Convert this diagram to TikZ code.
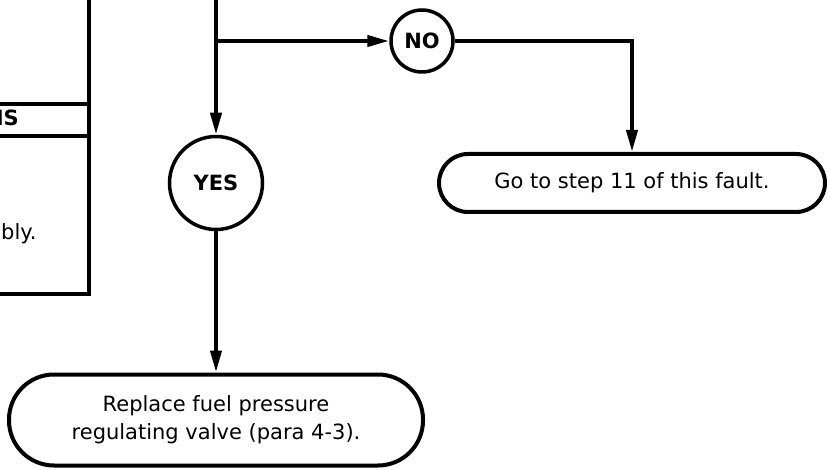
\documentclass[tikz,border=0pt]{standalone}
\usepackage{fontspec}
\setmainfont{DejaVu Sans}
\usetikzlibrary{arrows.meta,positioning}

\begin{document}
\begin{tikzpicture}[
  x=1pt, y=-1pt,
  font=\fontsize{21}{28}\selectfont,
  frame/.style={line width=4pt},
  choice/.style={draw, circle, inner sep=0pt, line width=3.5pt, font=\fontsize{21}{28}\selectfont\bfseries},
  action/.style={draw, rectangle, align=center, inner sep=0pt, line width=4pt},
  line/.style={-{Triangle[length=22pt,width=11pt]}, line width=4pt}
]
\path[use as bounding box, clip] (0,0) rectangle (830,470);

% troubleshooting table, cut off at the left
\draw[frame] (-100,-10) rectangle (89,294);
\draw[frame] (-100,104) -- (89,104);
\draw[frame] (-100,136) -- (89,136);
\node[anchor=east, inner sep=0pt, font=\fontsize{21}{28}\selectfont\bfseries] (hdr) at (19,118) {MS};
\node[anchor=base west, inner sep=0pt] (note) at (1,240) {bly.};

\coordinate (feed) at (216,-5);
\node[choice, minimum size=62pt] (no) at (422,41) {NO};
\node[choice, minimum size=93pt] (yes) at (216,183) {YES};
\node[action, minimum width=386pt, minimum height=58pt, rounded corners=29pt] (goto) at (632,183) {Go to step 11 of this fault.};
\node[action, minimum width=414pt, minimum height=91pt, rounded corners=45pt] (replace) at (216,420) {Replace fuel pressure\\regulating valve (para 4-3).};

\draw[line] (feed) -- (yes);
\draw[line] (feed |- no) -- (no);
\draw[line] (no) -| (goto);
\draw[line] (yes) -- (replace);
\end{tikzpicture}
\end{document}
